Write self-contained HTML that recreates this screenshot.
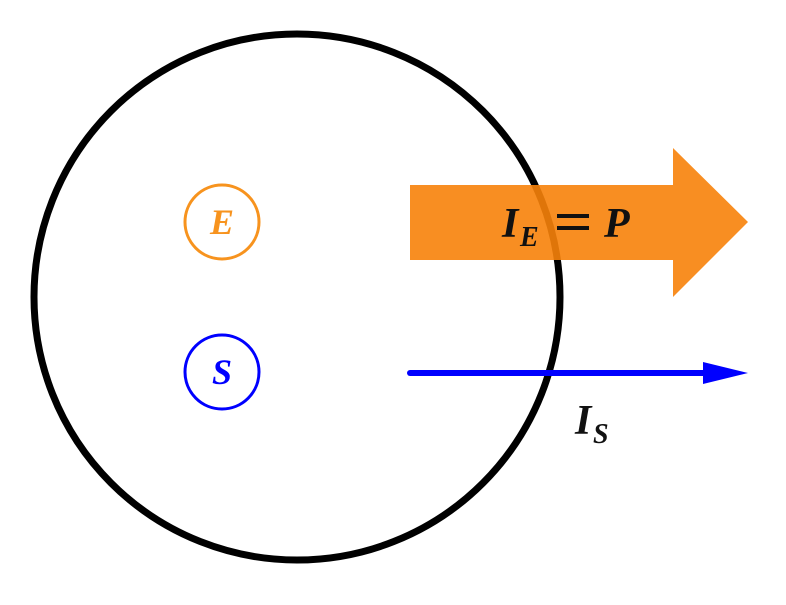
<!DOCTYPE html>
<html><head><style>html,body{margin:0;padding:0;background:#fff}</style></head>
<body>
<svg width="786" height="600" viewBox="0 0 786 600" xmlns="http://www.w3.org/2000/svg">
<circle cx="297" cy="297" r="263" fill="none" stroke="#000" stroke-width="7"/>
<circle cx="222" cy="222" r="37" fill="none" stroke="#f7931e" stroke-width="3"/>
<text x="222" y="234" text-anchor="middle" font-family="Liberation Serif, serif" font-style="italic" font-weight="bold" font-size="36" fill="#f7931e">E</text>
<circle cx="222" cy="372" r="37" fill="none" stroke="#0000ff" stroke-width="3"/>
<text x="222" y="384" text-anchor="middle" font-family="Liberation Serif, serif" font-style="italic" font-weight="bold" font-size="36" fill="#0000ff">S</text>
<polygon points="410,185 673,185 673,148 748,222 673,297 673,260 410,260" fill="#f7820a" fill-opacity="0.9"/>
<text x="502" y="237" font-family="Liberation Serif, serif" font-style="italic" font-weight="bold" font-size="42" fill="#111">I</text>
<text x="520" y="246" font-family="Liberation Serif, serif" font-style="italic" font-weight="bold" font-size="28" fill="#111">E</text>
<rect x="557" y="214" width="32" height="4" fill="#111"/>
<rect x="557" y="226" width="32" height="4" fill="#111"/>
<text x="604" y="237" font-family="Liberation Serif, serif" font-style="italic" font-weight="bold" font-size="42" fill="#111">P</text>
<line x1="410" y1="373" x2="708" y2="373" stroke="#0000ff" stroke-width="6" stroke-linecap="round"/>
<polygon points="703,362 748,373 703,384" fill="#0000ff"/>
<text x="575" y="434" font-family="Liberation Serif, serif" font-style="italic" font-weight="bold" font-size="42" fill="#111">I</text>
<text x="593" y="443" font-family="Liberation Serif, serif" font-style="italic" font-weight="bold" font-size="28" fill="#111">S</text>
</svg>
</body></html>
